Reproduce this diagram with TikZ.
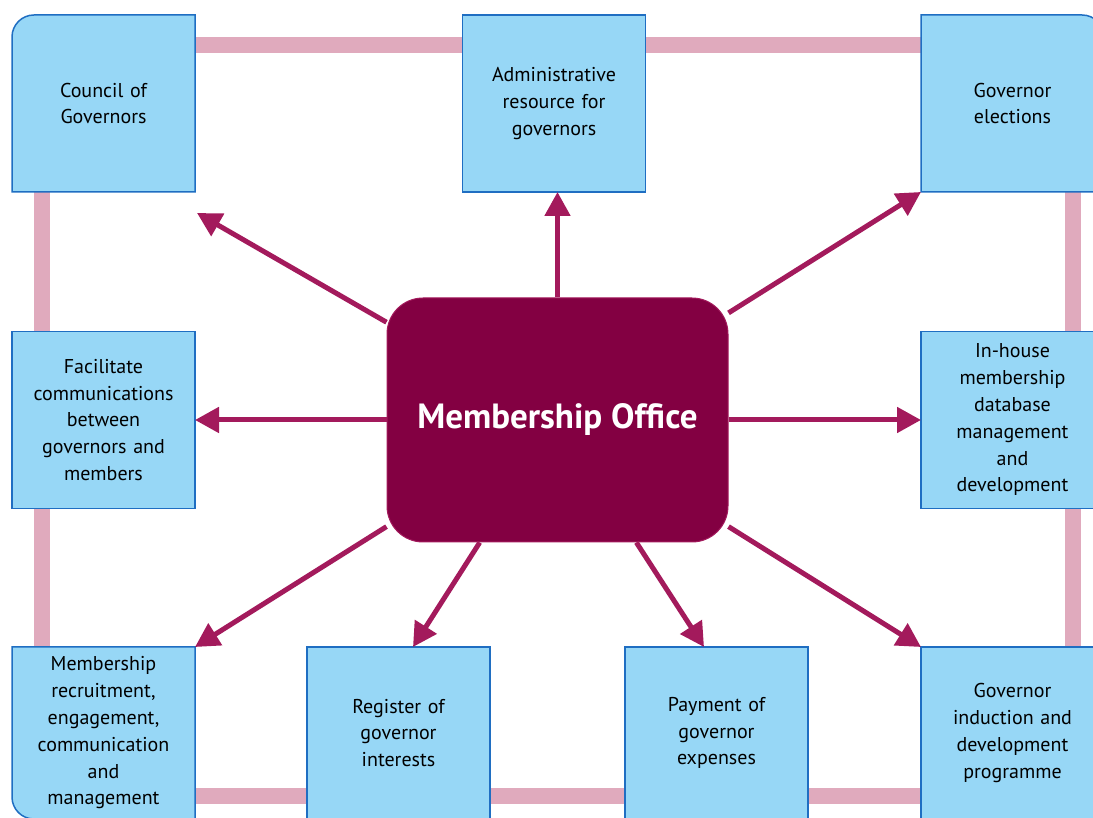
\documentclass[tikz,border=0pt]{standalone}
\usepackage{fontspec}
\setmainfont{PT Sans}
\usetikzlibrary{arrows.meta,positioning,calc}

\definecolor{boxfill}{HTML}{97D7F6}
\definecolor{boxline}{HTML}{1F6EC2}
\definecolor{framepink}{HTML}{E0AABD}
\definecolor{officered}{HTML}{830042}
\definecolor{arrowred}{HTML}{A31A5C}

\tikzset{
  task/.style={rectangle,draw=boxline,fill=boxfill,line width=1.5pt,
    minimum width=183pt,minimum height=177pt,inner sep=0pt,outer sep=0pt,
    align=center,text width=178pt,font=\fontsize{20}{26.8}\selectfont},
  cornertask/.style={task,draw=none,fill=none},
  lowtask/.style={task,minimum height=172pt},
  office/.style={rectangle,rounded corners=36pt,fill=officered,draw=arrowred,
    line width=1pt,minimum width=341pt,minimum height=244pt,text=white,
    font=\fontsize{35}{40}\selectfont\bfseries},
  link/.style={arrowred,line width=5pt,-{Triangle[length=24pt,width=25pt]}},
  frameline/.style={framepink,line width=16pt},
  cornerline/.style={draw=boxline,fill=boxfill,line width=1.5pt}
}

\begin{document}
\begin{tikzpicture}[x=1pt,y=1pt]
\useasboundingbox (0,0) rectangle (1093,818);
% pink frame behind the boxes
\draw[frameline] (42,22) rectangle (1073,773);

% central office
\node[office] (mo) at (557.5,398) {Membership Office};

% top row
\node[cornertask] (council) at (103.5,714.5) {};
\node[task] (admin) at (554,714.5) {Administrative\\resource for\\governors};
\node[cornertask] (elect) at (1012.5,714.5) {};
% middle row
\node[task] (facil) at (103.5,398) {Facilitate\\communications\\between\\governors and\\members};
\node[task] (inhouse) at (1012.5,398) {In-house\\membership\\database\\management\\and\\development};
% bottom row
\node[lowtask,draw=none,fill=none] (recruit) at (103.5,85) {};
\node[lowtask] (register) at (398.5,85) {Register of\\governor\\interests};
\node[lowtask] (pay) at (716.5,85) {Payment of\\governor\\expenses};
\node[lowtask] (induct) at (1012.5,85) {Governor\\induction and\\development\\programme};

% boxes with one rounded outer corner
\filldraw[cornerline]
  (council.south east) -- (council.south west) -- ($(council.north west)+(0,-22)$)
  arc[start angle=180,end angle=90,radius=22] -- (council.north east) -- cycle;
\filldraw[cornerline]
  (elect.south west) -- (elect.north west) -- ($(elect.north east)+(-22,0)$)
  arc[start angle=90,end angle=0,radius=22] -- (elect.south east) -- cycle;
\filldraw[cornerline]
  (recruit.north west) -- (recruit.north east) -- (recruit.south east)
  -- ($(recruit.south west)+(22,0)$) arc[start angle=270,end angle=180,radius=22] -- cycle;
\node[cornertask] at (council) {Council of\\Governors};
\node[cornertask] at (elect) {Governor\\elections};
\node[lowtask,draw=none,fill=none] at (recruit) {Membership\\recruitment,\\engagement,\\communication\\and\\management};

% arrows out of the office
\draw[link] (mo) -- ($(council.south east)+(2,-21)$);
\draw[link] (mo.north) -- (mo.north |- admin.south);
\draw[link] (mo) -- (elect.south west);
\draw[link] (mo.west) -- (facil.east);
\draw[link] (mo.east) -- (inhouse.west);
\draw[link] (mo) -- (recruit.north east);
\draw[link] (mo) -- ($(register.north)+(14.5,0)$);
\draw[link] (mo) -- ($(pay.north)+(-12.5,0)$);
\draw[link] (mo) -- (induct.north west);
\end{tikzpicture}
\end{document}
